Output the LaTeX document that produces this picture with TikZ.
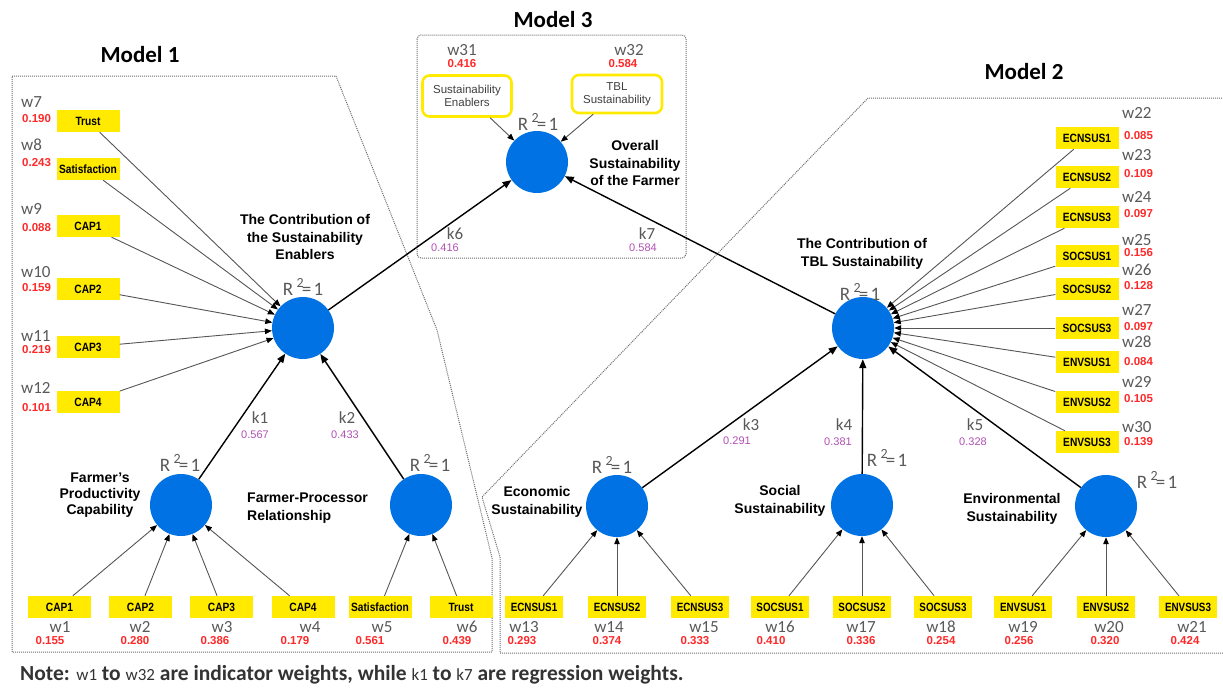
\documentclass[tikz,border=0pt]{standalone}
\usepackage{fontspec}
\setmainfont{Liberation Sans}
\newfontfamily\calfont{Carlito}
\usetikzlibrary{arrows.meta}
\definecolor{lvblue}{RGB}{0,114,227}
\definecolor{indyel}{RGB}{255,234,0}
\definecolor{wgray}{RGB}{89,89,89}
\definecolor{rred}{RGB}{255,40,40}
\definecolor{ppur}{RGB}{176,80,180}
\definecolor{lgray}{RGB}{85,85,85}
\definecolor{dotgray}{RGB}{110,110,110}
\newcommand\rsqtext{R\hspace{0.18em}\raisebox{0.45em}{\fontsize{14}{14}\selectfont 2}\hspace{-0.1em}=\hspace{0.12em}1}
\newcommand\sq[1]{\scalebox{0.85}[1]{#1}}
\tikzset{
 lv/.style={circle, fill=lvblue, minimum size=62pt, inner sep=0pt},
 ind/.style={fill=indyel, minimum width=63pt, minimum height=22pt, inner sep=0pt, font=\bfseries\fontsize{12}{12}\selectfont},
 indn/.style={ind, minimum width=58pt},
 wl/.style={text=wgray, font=\calfont\fontsize{17}{17}\selectfont, inner sep=0pt},
 rv/.style={text=rred, font=\bfseries\fontsize{11.5}{11.5}\selectfont, inner sep=0pt},
 pv/.style={text=ppur, font=\fontsize{11}{11}\selectfont, inner sep=0pt},
 rsq/.style={text=wgray, font=\calfont\fontsize{19}{19}\selectfont, inner sep=0pt},
 lbl/.style={font=\bfseries\fontsize{14}{17.5}\selectfont, align=center, inner sep=0pt},
 ttl/.style={font=\calfont\bfseries\fontsize{23}{23}\selectfont, inner sep=0pt},
 ia/.style={draw=lgray, line width=0.9pt, -{Triangle[length=7pt,width=5.5pt,color=black]}},
 sa/.style={draw=black, line width=1.4pt, -{Triangle[length=9pt,width=7pt]}},
 outl/.style={draw=dotgray, line width=1pt, densely dotted},
 mbox/.style={draw=indyel, line width=2.6pt, rounded corners=7pt, fill=white, align=center, font=\fontsize{11.5}{13}\selectfont, text=black!75, inner sep=0pt},
}
\begin{document}
\begin{tikzpicture}[x=1pt,y=-1pt]
\useasboundingbox (0,0) rectangle (1223,691);
% outlines
\draw[outl] (12,76) -- (336,76) -- (437,330) -- (492,558) -- (492,652) -- (12,652) -- cycle;
\draw[outl] (1224,98) -- (868,98) -- (482,497) -- (500,557) -- (500,653) -- (1224,653);
\draw[outl, rounded corners=4pt] (417,35) rectangle (686,258);
% titles
\node[ttl] (t1) at (140,55) {Model 1};
\node[ttl] (t3) at (553,20) {Model 3};
\node[ttl] (t2) at (1024,72) {Model 2};
% ===== Model 1 =====
\node[lv] (CSE) at (303,328) {};
\node[lv] (FP) at (181,505) {};
\node[lv] (FR) at (421,505) {};
\node[rsq] (rCSE) at (303,287) {\rsqtext};
\node[rsq] (rFP) at (180,463) {\rsqtext};
\node[rsq] (rFR) at (430,463) {\rsqtext};
\node[lbl] (lCSE) at (305,237) {The Contribution of\\the Sustainability\\Enablers};
\node[lbl, font=\bfseries\fontsize{14}{16}\selectfont] (lFP) at (100,495) {Farmer's\\Productivity\\Capability};
\node[lbl, align=left, anchor=west] (lFR) at (247,508) {Farmer-Processor\\Relationship};
% left column
\foreach \n/\t/\y/\w/\v/\wy/\vy in {a7/Trust/121/w7/0.190/102/119, a8/Satisfaction/169/w8/0.243/145/163, a9/CAP1/226/w9/0.088/209/228, a10/CAP2/289/w10/0.159/272/288, a11/CAP3/347/w11/0.219/336/350, a12/CAP4/402/w12/0.101/388/408}{
 \node[ind] (\n) at (88,\y) {\sq{\t}};
 \node[wl, anchor=west] (\n w) at (21,\wy) {\w};
 \node[rv, anchor=west] (\n v) at (22,\vy) {\v};
 \draw[ia] (\n) -- (CSE);
}
% bottom row model 1
\foreach \n/\t/\x/\tgt/\w/\wx/\v/\vx in {a1/CAP1/59.5/FP/w1/60/0.155/50, a2/CAP2/140.5/FP/w2/140/0.280/135, a3/CAP3/221.5/FP/w3/222/0.386/215, a4/CAP4/303/FP/w4/310/0.179/295, a5/Satisfaction/380/FR/w5/382/0.561/370, a6/Trust/461/FR/w6/467/0.439/457}{
 \node[ind] (\n) at (\x,607) {\sq{\t}};
 \node[wl] (\n w) at (\wx,627) {\w};
 \node[rv] (\n v) at (\vx,641) {\v};
 \draw[ia] (\n) -- (\tgt);
}
\draw[sa] (FP) -- (CSE);
\draw[sa] (FR) -- (CSE);
\node[wl] (k1) at (260,418) {k1};
\node[pv] (k1v) at (255,435) {0.567};
\node[wl] (k2) at (347,418) {k2};
\node[pv] (k2v) at (345,435) {0.433};
% ===== Model 3 =====
\node[lv] (O) at (537,162) {};
\node[rsq] (rO) at (538,122) {\rsqtext};
\node[mbox, minimum width=89pt, minimum height=41pt] (SE) at (467,96) {Sustainability\\Enablers};
\node[mbox, minimum width=90pt, minimum height=38pt] (TS) at (617,94) {TBL\\Sustainability};
\node[wl] (w31) at (462,50) {w31};
\node[rv] (w31v) at (462,64) {0.416};
\node[wl] (w32) at (629,50) {w32};
\node[rv] (w32v) at (623,64) {0.584};
\draw[ia] (SE) -- (O);
\draw[ia] (TS) -- (O);
\node[lbl] (lO) at (635,163) {Overall\\Sustainability\\of the Farmer};
\node[wl] (k6) at (455,234) {k6};
\node[pv] (k6v) at (445,248) {0.416};
\node[wl] (k7) at (647,234) {k7};
\node[pv] (k7v) at (643,248) {0.584};
% ===== Model 2 =====
\node[lv] (T) at (863,328) {};
\node[rsq] (rT) at (860,292) {\rsqtext};
\node[lbl] (lT) at (862,254) {The Contribution of\\TBL Sustainability};
\node[lv] (EC) at (617,506) {};
\node[lv] (SO) at (862,505) {};
\node[lv] (EN) at (1106,506) {};
\node[rsq] (rEC) at (612,465) {\rsqtext};
\node[rsq] (rSO) at (887,458) {\rsqtext};
\node[rsq] (rEN) at (1157,480) {\rsqtext};
\node[lbl] (lEC) at (537,502) {Economic\\Sustainability};
\node[lbl] (lSO) at (780,501) {Social\\Sustainability};
\node[lbl] (lEN) at (1012,509) {Environmental\\Sustainability};
% right column
\foreach \n/\t/\y/\w/\v/\wy/\vy in {b22/ECNSUS1/138/w22/0.085/113/136, b23/ECNSUS2/177/w23/0.109/155/174, b24/ECNSUS3/217/w24/0.097/197/214, b25/SOCSUS1/256/w25/0.156/240/253, b26/SOCSUS2/289/w26/0.128/270/286, b27/SOCSUS3/328/w27/0.097/310/327, b28/ENVSUS1/362/w28/0.084/342/362, b29/ENVSUS2/402/w29/0.105/382/399, b30/ENVSUS3/442/w30/0.139/427/442}{
 \node[ind] (\n) at (1087,\y) {\sq{\t}};
 \node[wl, anchor=west] (\n w) at (1122,\wy) {\w};
 \node[rv, anchor=west] (\n v) at (1124,\vy) {\v};
 \draw[ia] (\n) -- (T);
}
% bottom row model 2
\foreach \n/\t/\x/\tgt/\w/\wx/\v/\vx in {b13/ECNSUS1/534/EC/w13/524/0.293/522, b14/ECNSUS2/617/EC/w14/609/0.374/607, b15/ECNSUS3/700/EC/w15/704/0.333/695, b16/SOCSUS1/780/SO/w16/780/0.410/771, b17/SOCSUS2/862/SO/w17/861/0.336/861, b18/SOCSUS3/943/SO/w18/941/0.254/941, b19/ENVSUS1/1023/EN/w19/1023/0.256/1019, b20/ENVSUS2/1106/EN/w20/1109/0.320/1105, b21/ENVSUS3/1188/EN/w21/1192/0.424/1185}{
 \node[indn] (\n) at (\x,607) {\scalebox{0.82}[1]{\t}};
 \node[wl] (\n w) at (\wx,627) {\w};
 \node[rv] (\n v) at (\vx,641) {\v};
 \draw[ia] (\n) -- (\tgt);
}
\draw[sa] (EC) -- (T);
\draw[sa] (SO) -- (T);
\draw[sa] (EN) -- (T);
\node[wl] (k3) at (751,425) {k3};
\node[pv] (k3v) at (737,441) {0.291};
\node[wl] (k4) at (844,425) {k4};
\node[pv] (k4v) at (838,442) {0.381};
\node[wl] (k5) at (975,425) {k5};
\node[pv] (k5v) at (973,442) {0.328};
% model 3 structural
\draw[sa] (CSE) -- (O);
\draw[sa] (T) -- (O);
% note
\node[anchor=west, inner sep=0pt, text=black!80, font=\calfont\bfseries\fontsize{21.5}{21.5}\selectfont] (note) at (20,675) {Note: {\mdseries\fontsize{17}{17}\selectfont w1} to {\mdseries\fontsize{17}{17}\selectfont w32} are indicator weights, while {\mdseries\fontsize{17}{17}\selectfont k1} to {\mdseries\fontsize{17}{17}\selectfont k7} are regression weights.};
\end{tikzpicture}
\end{document}
